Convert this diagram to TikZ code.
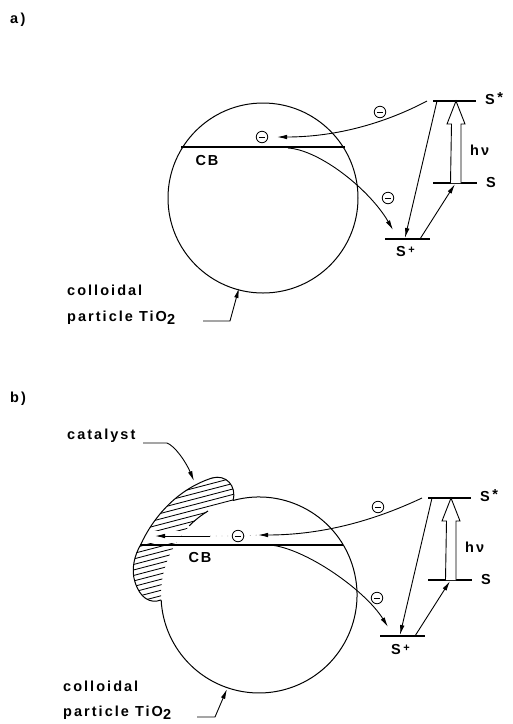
\documentclass[tikz,border=0pt]{standalone}
\usepackage{fontspec}
\setmainfont{Liberation Sans}[LetterSpace=14]
\usepackage{tikz}
\usetikzlibrary{arrows.meta,calc}
\tikzset{
  lvl/.style={line width=1.8pt},
  elec/.style={circle,draw,line width=0.8pt,minimum size=11.5pt,inner sep=0pt,path picture={\draw[line width=0.9pt] ([xshift=-3.2pt]path picture bounding box.center)--([xshift=3.2pt]path picture bounding box.center);}},
  lbl/.style={font=\bfseries\fontsize{14.5}{16}\selectfont,inner sep=0pt,anchor=west},
  tip/.style={-{Latex[length=10pt,width=4.5pt]},line width=0.9pt},
  hvarrow/.style={fill=white,line width=0.9pt,line join=miter},
}
\begin{document}
\begin{tikzpicture}[x=1pt,y=-1pt]
\useasboundingbox (0,0) rectangle (513,724);
% energy levels of the sensitizer, the same in both panels
\foreach \p/\dx/\dy in {a/0/0,b/-5/397}{
\begin{scope}[shift={(\dx,\dy)}]
\draw[lvl] (433,101) -- (476,101);
\draw[lvl] (433,183) -- (477,183);
\draw[lvl] (385,239) -- (430,239);
\node[lbl] (sst\p) at (485,99) {S\,\raisebox{2pt}{*}};
\node[lbl] (s\p) at (486,183) {S};
\node[lbl] (sp\p) at (396,252) {S\,\raisebox{3pt}{\fontsize{11}{11}\selectfont +}};
\node[lbl] (hv\p) at (470,150) {hν};
\coordinate (up\p) at (456,183); \coordinate (top\p) at (456,101);
\coordinate (sl\p) at (437,101); \coordinate (spl\p) at (405,238);
\coordinate (spr\p) at (420,239); \coordinate (sr\p) at (455,184);
\coordinate (sc\p) at (427,101); \coordinate (st\p) at (393,230);
\draw[hvarrow] ($(up\p)+(-5.5,0)$) -- ($(top\p)+(-4.5,23)$) -- ($(top\p)+(-9,23)$) -- (top\p) -- ($(top\p)+(9,23)$) -- ($(top\p)+(5,23)$) -- ($(up\p)+(5,0)$);
\draw[tip] (sl\p) -- (spl\p);
\draw[tip] (spr\p) -- (sr\p);
\end{scope}}
% panel a
\node[lbl] (pa) at (10,20) {a\,)};
\draw[line width=1pt] (263,198) circle (95);
\draw[line width=2.6pt] (181,147) -- (345,147);
\node[lbl,anchor=center] (cba) at (207,161) {CB};
\node[elec] (e1a) at (380,112) {};
\node[elec] (e2a) at (262,137) {};
\node[elec] (e3a) at (388,198) {};
\coordinate (ina) at (277,137); \coordinate (outa) at (288,148);
\draw[tip] (sca) .. controls (395,118) and (345,137) .. (ina);
\draw[tip] (outa) .. controls (320,150) and (370,190) .. (sta);
\node[lbl] (cola) at (67,290) {colloidal};
\node[lbl] (pta) at (67,318) {particle TiO\raisebox{-2.5pt}{2}};
\coordinate (pha) at (203,321); \coordinate (pia) at (239,288);
\draw[tip] (pha) -- ++(27,0) -- (pia);
% panel b
\node[lbl] (pb) at (10,399) {b)};
\begin{scope}
\clip (161,600) .. controls (150,604) and (140,598) .. (135,582) .. controls (131,570) and (134,556) .. (141,544) .. controls (152,520) and (175,490) .. (212,478) .. controls (226,474) and (237,486) .. (233,500.5) arc[start angle=254.6,end angle=177.1,radius=98];
\fill[white] (120,470) rectangle (245,610);
\foreach \k in {0,...,30} \draw[line width=0.85pt] (120,480+5.5*\k) -- ++(130,-34);
\fill[white] (125,531) rectangle (240,543);
\end{scope}
\draw[line width=1pt] (161,600) .. controls (150,604) and (140,598) .. (135,582) .. controls (131,570) and (134,556) .. (141,544) .. controls (152,520) and (175,490) .. (212,478) .. controls (226,474) and (237,486) .. (233,500.5);
\draw[line width=1pt] (233,500.5) arc[start angle=-105.4,end angle=177.1,radius=98];
\draw[line width=1pt] (208,511) arc[start angle=238.7,end angle=224.7,radius=98];
\draw[line width=1.8pt] (140,545) -- (343,545);
\node[lbl,anchor=center] (cbb) at (200,558) {CB};
\node[elec] (e1b) at (378,507) {};
\node[elec] (e2b) at (238,536) {};
\node[elec] (e3b) at (377,598) {};
\coordinate (inb) at (258,535); \coordinate (outb) at (270,545);
\coordinate (ctb) at (210,536); \coordinate (cin) at (155,536);
\draw[tip] (scb) .. controls (390,513) and (335,535) .. (inb);
\draw[tip] (ctb) -- (cin);
\draw[gray!70,line width=0.8pt,dash pattern=on 0.8pt off 5pt] (ctb) -- (e2b.west) (e2b.east) -- (inb);
\draw[tip] (outb) .. controls (305,548) and (365,590) .. (stb);
\node[lbl] (catl) at (67,436) {catalyst};
\coordinate (cath) at (143,443); \coordinate (catt) at (194,481);
\draw[tip] (cath) -- (167,443) .. controls (175,446) and (186,462) .. (catt);
\node[lbl] (colb) at (63,686) {colloidal};
\node[lbl] (ptb) at (63,713) {particle TiO\raisebox{-2.5pt}{2}};
\coordinate (phb) at (197,717); \coordinate (pib) at (227,689);
\draw[tip] (phb) -- ++(18,0) -- (pib);
\end{tikzpicture}
\end{document}
